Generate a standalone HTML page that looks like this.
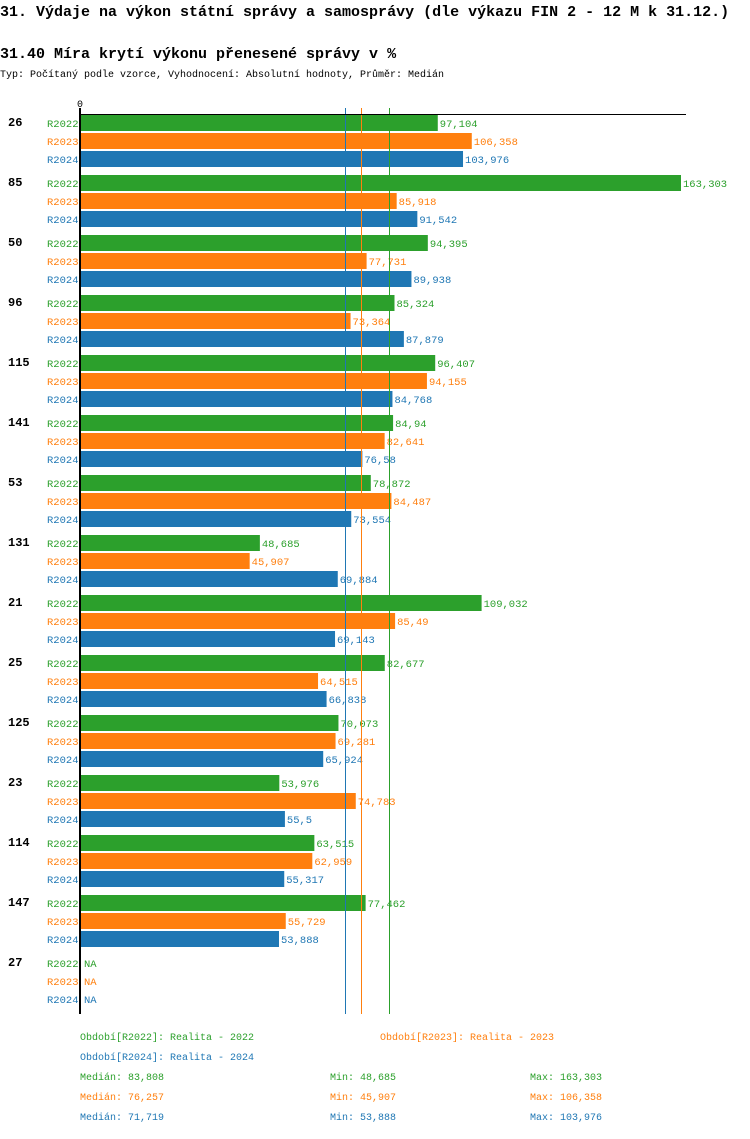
<!DOCTYPE html>
<html><head><meta charset="utf-8"><style>
body{margin:0;background:#fff;width:750px;height:1134px;overflow:hidden;font-family:"Liberation Mono","DejaVu Sans Mono",monospace;}
svg text{font-family:"Liberation Mono","DejaVu Sans Mono",monospace;}
</style></head><body>
<svg id="chart" width="750" height="1134" xmlns="http://www.w3.org/2000/svg">
<text x="0" y="16" font-size="15" font-weight="bold">31. Výdaje na výkon státní správy a samosprávy (dle výkazu FIN 2 - 12 M k 31.12.)</text>
<text x="0" y="58" font-size="15" font-weight="bold">31.40 Míra krytí výkonu přenesené správy v %</text>
<text x="0" y="77" font-size="10" textLength="444">Typ: Počítaný podle vzorce, Vyhodnocení: Absolutní hodnoty, Průměr: Medián</text>
<g id="plot"></g>
</svg>
<script>
const categories=["26","85","50","96","115","141","53","131","21","25","125","23","114","147","27"];
const seriesNames=["R2022","R2023","R2024"];
const s2022=[97.104,163.303,94.395,85.324,96.407,84.94,78.872,48.685,109.032,82.677,70.073,53.976,63.515,77.462,null];
const s2023=[106.358,85.918,77.731,73.364,94.155,82.641,84.487,45.907,85.49,64.515,69.281,74.783,62.959,55.729,null];
const s2024=[103.976,91.542,89.938,87.879,84.768,76.58,73.554,69.884,69.143,66.838,65.924,55.5,55.317,53.888,null];
const medians=[83.808,76.257,71.719];
const mins=[48.685,45.907,53.888];
const maxs=[163.303,106.358,103.976];
const colors=["#2ca02c","#ff7f0e","#1f77b4"];
const NS="http://www.w3.org/2000/svg";
const plot=document.getElementById('plot');
const x0=81, scale=600/163.303, plotTop=114, pitch=60;
const xs=v=>x0+v*scale;
function mk(tag,attrs,txt){const e=document.createElementNS(NS,tag);for(const k in attrs)e.setAttribute(k,attrs[k]);if(txt!=null)e.textContent=txt;plot.appendChild(e);return e;}
const fmt=v=>String(v).replace('.',',');
const all=[s2022,s2023,s2024];
const bottom=plotTop+categories.length*pitch;
categories.forEach((c,i)=>{
  const gy=plotTop+i*pitch;
  let t=mk('text',{x:8,y:gy+12,'font-size':12,'font-weight':'bold'},c);
  
  
  all.forEach((s,j)=>{
    const y=gy+1+j*18;
    let l=mk('text',{x:47,y:y+12,'font-size':10.5,fill:colors[j]},seriesNames[j]);
    
    
    const v=s[i];
    if(v==null){
      let n=mk('text',{x:84,y:y+12,'font-size':10.5,fill:colors[j]},'NA');
      
      
      return;
    }
    let r=mk('rect',{x:x0,y:y,width:xs(v)-x0,height:16,fill:colors[j]});
    
    
    let vl=mk('text',{x:xs(v)+2,y:y+12,'font-size':10.5,fill:colors[j]},fmt(v));
    
    
  });
});
medians.forEach((m,j)=>{
  const xm=Math.round(xs(m))+0.5;
  let ln=mk('line',{x1:xm,x2:xm,y1:108,y2:bottom,stroke:colors[j],'stroke-width':1});
  
  
});
let ax=mk('line',{x1:80,x2:80,y1:108,y2:bottom,stroke:'#000','stroke-width':2});


let hx=mk('line',{x1:80,x2:686,y1:114.5,y2:114.5,stroke:'#000','stroke-width':1});


let z=mk('text',{x:77,y:107,'font-size':10},'0');


const legendPos=[[80,1040],[380,1040],[80,1060]];
const years=["2022","2023","2024"];
legendPos.forEach((p,j)=>{
  let lg=mk('text',{x:p[0],y:p[1],'font-size':10,fill:colors[j]},'Období['+seriesNames[j]+']: Realita - '+years[j]);
  
  
});
[0,1,2].forEach(j=>{
  const y=1080+j*20;
  let a=mk('text',{x:80,y:y,'font-size':10,fill:colors[j]},'Medián: '+fmt(medians[j]));
  
  
  let b=mk('text',{x:330,y:y,'font-size':10,fill:colors[j]},'Min: '+fmt(mins[j]));
  
  
  let c=mk('text',{x:530,y:y,'font-size':10,fill:colors[j]},'Max: '+fmt(maxs[j]));
  
  
});
</script>
</body></html>
